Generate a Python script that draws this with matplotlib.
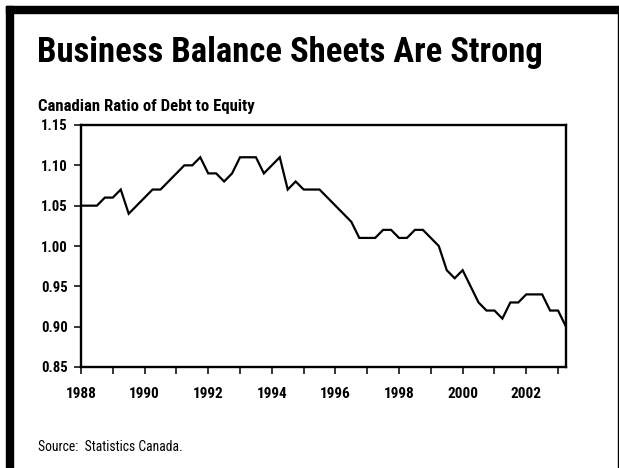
import numpy as np
import matplotlib
matplotlib.use('Agg')
import matplotlib.pyplot as plt
from matplotlib.patches import Rectangle

# quarterly ratio of debt to equity, 1988Q1 .. 2003Q2
start_year = 1988
ratio = [1.05, 1.05, 1.05, 1.06, 1.06, 1.07, 1.04, 1.05, 1.06, 1.07,
         1.07, 1.08, 1.09, 1.10, 1.10, 1.11, 1.09, 1.09, 1.08, 1.09,
         1.11, 1.11, 1.11, 1.09, 1.10, 1.11, 1.07, 1.08, 1.07, 1.07,
         1.07, 1.06, 1.05, 1.04, 1.03, 1.01, 1.01, 1.01, 1.02, 1.02,
         1.01, 1.01, 1.02, 1.02, 1.01, 1.00, 0.97, 0.96, 0.97, 0.95,
         0.93, 0.92, 0.92, 0.91, 0.93, 0.93, 0.94, 0.94, 0.94, 0.92,
         0.92, 0.90]
year_ticks = list(range(1988, 2004))
year_labels = [str(y) if y % 2 == 0 else '' for y in year_ticks]
y_ticks = [0.85, 0.90, 0.95, 1.00, 1.05, 1.10, 1.15]

quarters = start_year + np.arange(len(ratio)) / 4.0

plt.rcParams['font.family'] = ['Roboto Condensed', 'DejaVu Sans']

W, H = 619.0, 468.0
fig = plt.figure(figsize=(W / 100, H / 100), dpi=100)
renderer = fig.canvas.get_renderer()


def fit_width(txt, target):
    # scale the font so the string spans `target` pixels
    w = txt.get_window_extent(renderer).width
    txt.set_fontsize(txt.get_fontsize() * target / w)
    return txt.get_fontsize()


# page frame: heavy bars top and left, hairline on the right
fig.patches.append(Rectangle((6 / W, 455 / H), 1, 7 / H, transform=fig.transFigure,
                             color='black', zorder=0))
fig.patches.append(Rectangle((6 / W, 0), 7 / W, 462 / H, transform=fig.transFigure,
                             color='black', zorder=0))
fig.patches.append(Rectangle((617.5 / W, 0), 1.5 / W, 462 / H, transform=fig.transFigure,
                             color='black', zorder=0))

title = fig.text(37 / W, 1 - 62 / H, 'Business Balance Sheets Are Strong',
                 fontsize=26, fontweight='black', ha='left', va='baseline')
fit_width(title, 505)
sub = fig.text(38 / W, 1 - 110.7 / H, 'Canadian Ratio of Debt to Equity',
               fontsize=12, fontweight='heavy', ha='left', va='baseline')
fit_width(sub, 216)
src = fig.text(38 / W, 1 - 451 / H, 'Source:  Statistics Canada.',
               fontsize=9, ha='left', va='baseline')
fit_width(src, 145)

ax = fig.add_axes([81 / W, 1 - 367 / H, 485 / W, 242 / H])
ax.plot(quarters, ratio, color='black', lw=1.6, solid_joinstyle='miter')
ax.set_xlim(1988, 2003.25)
ax.set_ylim(0.85, 1.15)
ax.set_xticks(year_ticks)
ax.set_xticklabels(year_labels)
ax.set_yticks(y_ticks)
ax.set_yticklabels(['%.2f' % v for v in y_ticks])
for s in ax.spines.values():
    s.set_linewidth(1.7)

# size tick labels from the width of one sample label
probe = fig.text(0, 0, '1.15', fontsize=10, fontweight='heavy')
ysize = fit_width(probe, 27)
probe.set_text('1988')
probe.set_fontsize(10)
xsize = fit_width(probe, 31)
probe.remove()

ax.tick_params(direction='out', length=5, width=1.1)
ax.tick_params(axis='y', labelsize=ysize, pad=4.3)
ax.tick_params(axis='x', labelsize=xsize, pad=9.5)
for lbl in ax.get_xticklabels() + ax.get_yticklabels():
    lbl.set_fontweight('heavy')

fig.savefig('out.png', dpi=100)
